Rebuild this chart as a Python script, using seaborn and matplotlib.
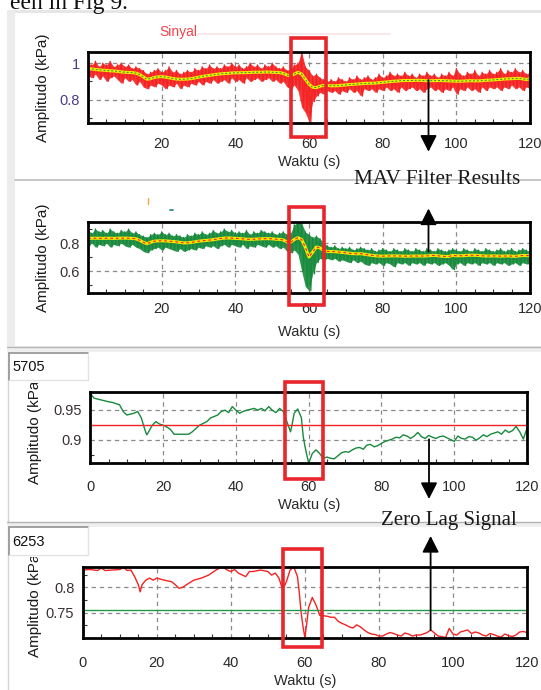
import numpy as np
import pandas as pd
import seaborn as sns
import matplotlib.pyplot as plt
from matplotlib import patches, lines
from matplotlib.transforms import Bbox

W, H = 541, 690

# ---- data ----

t_sec = list(range(121))

# panel 1: raw pressure (red band) and MAV filtered (yellow)
p1_hi = [1.00, 0.99, 1.01, 0.98, 1.00, 0.99, 1.01, 0.98, 0.99, 1.00, 0.98, 0.99, 0.97, 0.98, 0.97, 0.96, 0.94, 0.95, 0.96, 0.97,
         0.95, 0.96, 0.98, 0.95, 0.96, 0.94, 0.95, 0.96, 0.95, 0.97, 0.96, 0.98, 0.97, 0.99, 0.97, 0.98, 0.97, 0.99, 0.98, 1.00,
         0.98, 0.99, 0.97, 0.98, 1.00, 0.98, 0.99, 0.97, 0.99, 0.98, 1.00, 0.98, 0.97, 0.98, 0.96, 0.97, 0.99, 1.00, 1.06, 0.98,
         0.96, 0.93, 0.94, 0.92, 0.91, 0.90, 0.91, 0.90, 0.92, 0.91, 0.90, 0.92, 0.91, 0.93, 0.91, 0.92, 0.93, 0.91, 0.92, 0.94,
         0.92, 0.93, 0.95, 0.93, 0.94, 0.93, 0.95, 0.93, 0.94, 0.92, 0.94, 0.93, 0.95, 0.93, 0.94, 0.92, 0.94, 0.93, 0.95, 0.93,
         0.97, 0.94, 0.93, 0.95, 0.94, 0.96, 0.93, 0.95, 0.94, 0.96, 0.94, 0.95, 0.97, 0.94, 0.96, 0.95, 0.97, 0.95, 0.96, 0.94,
         0.95]
p1_lo = [0.93, 0.92, 0.94, 0.91, 0.93, 0.90, 0.92, 0.93, 0.91, 0.89, 0.92, 0.90, 0.91, 0.88, 0.90, 0.87, 0.86, 0.88, 0.87, 0.89,
         0.88, 0.86, 0.88, 0.87, 0.89, 0.86, 0.88, 0.87, 0.89, 0.88, 0.90, 0.88, 0.90, 0.89, 0.91, 0.89, 0.90, 0.91, 0.89, 0.92,
         0.90, 0.91, 0.89, 0.92, 0.90, 0.91, 0.92, 0.90, 0.91, 0.92, 0.90, 0.91, 0.89, 0.90, 0.87, 0.86, 0.88, 0.85, 0.76, 0.73,
         0.68, 0.79, 0.82, 0.84, 0.83, 0.85, 0.84, 0.85, 0.83, 0.85, 0.84, 0.86, 0.84, 0.85, 0.82, 0.86, 0.85, 0.86, 0.84, 0.86,
         0.85, 0.87, 0.85, 0.86, 0.84, 0.87, 0.85, 0.86, 0.87, 0.85, 0.86, 0.84, 0.86, 0.87, 0.85, 0.86, 0.84, 0.86, 0.85, 0.87,
         0.83, 0.86, 0.85, 0.87, 0.85, 0.86, 0.84, 0.87, 0.85, 0.87, 0.86, 0.87, 0.85, 0.87, 0.86, 0.88, 0.86, 0.87, 0.85, 0.87,
         0.86]
p1_mav = [0.970, 0.968, 0.965, 0.963, 0.961, 0.960, 0.958, 0.957, 0.955, 0.952, 0.950, 0.949, 0.948, 0.945, 0.938, 0.925,
          0.912, 0.915, 0.922, 0.925, 0.926, 0.924, 0.920, 0.916, 0.913, 0.912, 0.912, 0.913, 0.915, 0.919, 0.923, 0.927,
          0.930, 0.933, 0.936, 0.939, 0.941, 0.943, 0.944, 0.946, 0.947, 0.947, 0.948, 0.948, 0.949, 0.950, 0.950, 0.950,
          0.951, 0.951, 0.950, 0.949, 0.948, 0.944, 0.935, 0.930, 0.940, 0.950, 0.940, 0.912, 0.885, 0.868, 0.866, 0.874,
          0.878, 0.878, 0.876, 0.876, 0.877, 0.879, 0.881, 0.883, 0.884, 0.886, 0.887, 0.889, 0.890, 0.890, 0.891, 0.893,
          0.895, 0.897, 0.899, 0.901, 0.902, 0.904, 0.905, 0.905, 0.905, 0.906, 0.906, 0.905, 0.904, 0.904, 0.904, 0.905,
          0.905, 0.904, 0.903, 0.902, 0.901, 0.901, 0.902, 0.903, 0.904, 0.903, 0.903, 0.904, 0.906, 0.907, 0.908, 0.910,
          0.911, 0.913, 0.914, 0.915, 0.916, 0.917, 0.914, 0.910, 0.915]

# panel 2: raw pressure (green band) and MAV filtered (yellow)
p2_hi = [0.89, 0.87, 0.90, 0.88, 0.89, 0.87, 0.90, 0.88, 0.87, 0.89, 0.88, 0.90, 0.87, 0.88, 0.86, 0.85, 0.84, 0.86, 0.87, 0.86,
         0.88, 0.86, 0.87, 0.85, 0.86, 0.85, 0.84, 0.86, 0.85, 0.87, 0.86, 0.88, 0.86, 0.87, 0.89, 0.87, 0.88, 0.90, 0.88, 0.89,
         0.87, 0.88, 0.87, 0.89, 0.86, 0.88, 0.87, 0.89, 0.88, 0.87, 0.88, 0.86, 0.87, 0.88, 0.86, 0.87, 0.93, 0.95, 0.94, 0.88,
         0.86, 0.84, 0.85, 0.83, 0.80, 0.78, 0.77, 0.78, 0.76, 0.77, 0.76, 0.77, 0.75, 0.76, 0.77, 0.76, 0.75, 0.76, 0.74, 0.75,
         0.76, 0.75, 0.74, 0.76, 0.75, 0.74, 0.76, 0.75, 0.74, 0.76, 0.75, 0.74, 0.76, 0.75, 0.74, 0.76, 0.75, 0.74, 0.75, 0.76,
         0.75, 0.74, 0.76, 0.75, 0.74, 0.76, 0.75, 0.74, 0.76, 0.75, 0.74, 0.75, 0.76, 0.74, 0.75, 0.76, 0.74, 0.75, 0.76, 0.75,
         0.74]
p2_lo = [0.78, 0.80, 0.77, 0.79, 0.78, 0.80, 0.77, 0.79, 0.78, 0.80, 0.78, 0.77, 0.79, 0.77, 0.76, 0.74, 0.73, 0.75, 0.76, 0.77,
         0.75, 0.77, 0.76, 0.75, 0.74, 0.76, 0.74, 0.75, 0.76, 0.75, 0.77, 0.76, 0.78, 0.77, 0.78, 0.76, 0.78, 0.79, 0.77, 0.79,
         0.78, 0.77, 0.79, 0.76, 0.78, 0.77, 0.79, 0.78, 0.77, 0.79, 0.77, 0.78, 0.76, 0.77, 0.74, 0.73, 0.75, 0.72, 0.60, 0.49,
         0.46, 0.58, 0.66, 0.69, 0.68, 0.69, 0.68, 0.69, 0.67, 0.68, 0.67, 0.66, 0.68, 0.66, 0.67, 0.65, 0.64, 0.66, 0.65, 0.66,
         0.64, 0.66, 0.65, 0.63, 0.66, 0.65, 0.66, 0.64, 0.66, 0.65, 0.66, 0.64, 0.66, 0.65, 0.66, 0.64, 0.65, 0.66, 0.64, 0.61,
         0.65, 0.66, 0.64, 0.66, 0.65, 0.66, 0.64, 0.66, 0.65, 0.66, 0.64, 0.66, 0.65, 0.66, 0.64, 0.65, 0.66, 0.64, 0.66, 0.65,
         0.66]
p2_mav = [0.833, 0.834, 0.834, 0.834, 0.833, 0.834, 0.834, 0.833, 0.834, 0.835, 0.835, 0.834, 0.833, 0.830, 0.820, 0.805,
          0.795, 0.805, 0.813, 0.815, 0.816, 0.815, 0.813, 0.811, 0.808, 0.804, 0.801, 0.801, 0.804, 0.808, 0.813, 0.816,
          0.818, 0.821, 0.824, 0.828, 0.832, 0.835, 0.836, 0.835, 0.833, 0.832, 0.830, 0.827, 0.826, 0.827, 0.829, 0.830,
          0.831, 0.831, 0.830, 0.827, 0.826, 0.822, 0.808, 0.805, 0.825, 0.838, 0.825, 0.770, 0.700, 0.735, 0.772, 0.765,
          0.745, 0.740, 0.739, 0.738, 0.736, 0.733, 0.730, 0.727, 0.724, 0.723, 0.724, 0.720, 0.716, 0.712, 0.709, 0.707,
          0.706, 0.707, 0.708, 0.708, 0.708, 0.707, 0.706, 0.706, 0.707, 0.707, 0.707, 0.707, 0.708, 0.710, 0.712, 0.709,
          0.706, 0.704, 0.704, 0.712, 0.709, 0.709, 0.710, 0.712, 0.713, 0.712, 0.711, 0.709, 0.707, 0.707, 0.708, 0.707,
          0.706, 0.707, 0.708, 0.706, 0.705, 0.708, 0.711, 0.710, 0.710]

# panel 3: zero lag result of panel 1
p3_t = [0, 1, 3, 5, 6, 8, 9, 10, 12, 13, 14, 15, 15.5, 16, 17, 18, 19, 20, 21, 22, 23, 25, 27, 28, 30, 32, 33, 35, 36, 37,
        38, 39, 40, 41, 42, 43, 45, 46, 47, 48, 49, 50, 51, 52, 53, 54, 55, 55.5, 56, 57, 58, 58.5, 59, 59.5, 60, 61, 62, 63,
        64, 65, 66, 67, 68, 69, 70, 71, 72, 73, 74, 75, 76, 77, 78, 79, 80, 81, 82, 83, 84, 85, 86, 87, 88, 89, 90, 91, 92,
        93, 94, 95, 96, 97, 98, 99, 100, 101, 102, 103, 104, 105, 106, 107, 108, 109, 110, 111, 112, 113, 114, 115, 116,
        117, 118, 119, 120]
p3_v = [0.977, 0.969, 0.966, 0.963, 0.962, 0.958, 0.947, 0.941, 0.944, 0.947, 0.936, 0.916, 0.908, 0.913, 0.924, 0.930,
        0.926, 0.924, 0.921, 0.917, 0.909, 0.909, 0.909, 0.913, 0.924, 0.930, 0.936, 0.941, 0.947, 0.949, 0.945, 0.955,
        0.949, 0.944, 0.947, 0.949, 0.952, 0.949, 0.952, 0.948, 0.955, 0.949, 0.945, 0.952, 0.947, 0.930, 0.913, 0.927,
        0.944, 0.951, 0.936, 0.905, 0.888, 0.874, 0.861, 0.877, 0.883, 0.877, 0.869,
        0.871, 0.869, 0.868, 0.873, 0.878, 0.880, 0.879, 0.883, 0.886, 0.887, 0.884, 0.891, 0.892, 0.888, 0.890, 0.894,
        0.897, 0.899, 0.901, 0.904, 0.903, 0.908, 0.906, 0.902, 0.906, 0.912, 0.905, 0.902, 0.907, 0.904, 0.902, 0.905,
        0.906, 0.903, 0.900, 0.897, 0.906, 0.902, 0.901, 0.905, 0.904, 0.899, 0.903, 0.908, 0.905, 0.909, 0.911, 0.913,
        0.909, 0.916, 0.912, 0.915, 0.922, 0.913, 0.901, 0.919]
p3_ref = 0.924

# panel 4: zero lag result of panel 2
p4_t = [0, 2, 4, 5, 6, 8, 10, 11, 12, 13, 14, 15, 15.5, 16, 17, 18, 19, 20, 22, 24, 25, 26, 27, 28, 30, 32, 34, 36, 37, 38,
        39, 40, 41, 42, 44, 45, 46, 48, 50, 51, 52, 53, 54, 55, 56, 57, 58, 58.5, 59, 59.5, 60, 60.5, 61, 62, 63, 64, 65, 66,
        67, 68, 69, 70, 71, 72, 73, 74, 75, 76, 77, 78, 79, 80, 81, 82, 83, 84, 85, 86, 87, 88, 89, 90, 91, 92, 93, 94, 95,
        96, 97, 98, 99, 100, 101, 102, 103, 104, 105, 106, 107, 108, 109, 110, 111, 112, 113, 114, 115, 116, 117, 118, 119,
        120]
p4_v = [0.834, 0.835, 0.833, 0.838, 0.833, 0.834, 0.835, 0.839, 0.833, 0.834, 0.821, 0.805, 0.791, 0.805, 0.814, 0.818,
        0.814, 0.818, 0.814, 0.811, 0.805, 0.798, 0.800, 0.805, 0.814, 0.818, 0.824, 0.834, 0.838, 0.839, 0.834, 0.831,
        0.835, 0.828, 0.821, 0.831, 0.831, 0.834, 0.831, 0.824, 0.828, 0.818, 0.795, 0.811, 0.834, 0.840, 0.821, 0.788,
        0.749, 0.722, 0.701, 0.729, 0.760, 0.780, 0.765, 0.745, 0.744, 0.743,
        0.741, 0.741, 0.733, 0.729, 0.726, 0.722, 0.720, 0.726, 0.722, 0.716, 0.711, 0.708, 0.707, 0.704, 0.704, 0.708,
        0.711, 0.709, 0.706, 0.704, 0.710, 0.708, 0.704, 0.706, 0.706, 0.708, 0.711, 0.716, 0.710, 0.704, 0.703, 0.701,
        0.719, 0.708, 0.706, 0.712, 0.714, 0.716, 0.709, 0.712, 0.710, 0.706, 0.704, 0.709, 0.707, 0.704, 0.702, 0.708,
        0.705, 0.703, 0.706, 0.712, 0.713, 0.711]
p4_ref = 0.7546

box_codes = ['5705', '6253']

# ---- figure ----

sns.set_theme(style='white')
plt.rcParams['font.family'] = ['Liberation Sans', 'DejaVu Sans']

fig = plt.figure(figsize=(W / 100, H / 100), dpi=100)
fig.patch.set_facecolor('white')


def fx(x):
    return x / W


def fy(y):
    return 1 - y / H


def rect_px(x0, y0, x1, y1, **kw):
    r = patches.Rectangle((fx(x0), fy(y1)), fx(x1) - fx(x0), fy(y0) - fy(y1),
                          transform=fig.transFigure, **kw)
    fig.add_artist(r)


def line_px(xs, ys, **kw):
    fig.add_artist(lines.Line2D([fx(v) for v in xs], [fy(v) for v in ys],
                                transform=fig.transFigure, **kw))


def arrow_px(x, y0, y1):
    fig.add_artist(patches.FancyArrowPatch((fx(x), fy(y0)), (fx(x), fy(y1)),
                                           transform=fig.transFigure,
                                           arrowstyle='-|>,head_length=0.55,head_width=0.28',
                                           mutation_scale=18, lw=1.3, color='black',
                                           shrinkA=0, shrinkB=0, zorder=6))


# window chrome
rect_px(7, 10, 541, 13, fc='#e6e6e6', ec='none', zorder=-5)
rect_px(7, 10, 15, 347, fc='#ececec', ec='none', zorder=-5)
line_px([15, 541], [180, 180], color='#bdbdbd', lw=1.2, zorder=-4)
rect_px(7, 346, 541, 352, fc='#efefef', ec='none', zorder=-5)
line_px([7, 541], [346.5, 346.5], color='#b4b4b4', lw=1.0, zorder=-4)
line_px([7.5, 7.5], [352, 522], color='#d4d4d4', lw=1.0, zorder=-4)
rect_px(7, 522, 541, 527, fc='#efefef', ec='none', zorder=-5)
line_px([7, 541], [521.8, 521.8], color='#b4b4b4', lw=1.0, zorder=-4)
line_px([7.5, 7.5], [527, 690], color='#d4d4d4', lw=1.0, zorder=-4)

# numeric boxes
for code, (y0, y1) in zip(box_codes, [(352.5, 380), (526.7, 555)]):
    rect_px(8.6, y0, 88, y1, fc='white', ec='none', zorder=2)
    line_px([8.6, 88], [y0 + 0.7, y0 + 0.7], color='#9a9a9a', lw=1.3, zorder=3)
    line_px([9.3, 9.3], [y0, y1], color='#9a9a9a', lw=1.3, zorder=3)
    line_px([8.6, 88], [y1, y1], color='#e2e2e2', lw=1.0, zorder=3)
    line_px([88, 88], [y0, y1], color='#e2e2e2', lw=1.0, zorder=3)
    fig.text(fx(12), fy((y0 + y1) / 2 + 1), code, fontsize=10.5, color='#111111',
             ha='left', va='center', zorder=4)

axes_px = [(88, 51.7, 530, 122.7), (88, 221.7, 530, 292.7), (90.4, 392.3, 527, 463.3), (82.8, 566.7, 527, 637.7)]
axs = [fig.add_axes([fx(a), fy(d), fx(c) - fx(a), fy(b) - fy(d)]) for a, b, c, d in axes_px]
ax1, ax2, ax3, ax4 = axs

grid_kw = dict(color='#8a8a8a', lw=0.9, ls=(0, (3.5, 3)))

# raw signals as a zig-zag between the high and low readings
raw_t = []
for s in t_sec:
    raw_t += [s, s + 0.5]
raw_t = raw_t[:-1]

raw1 = []
for a, b in zip(p1_hi, p1_lo):
    raw1 += [a, b]
raw1 = raw1[:-1]
raw2 = []
for a, b in zip(p2_hi, p2_lo):
    raw2 += [a, b]
raw2 = raw2[:-1]

red, green, yellow = '#f42222', '#178a3c', '#f4ea00'

ax1.fill_between(t_sec, p1_lo, p1_hi, color=red, lw=0, alpha=0.9)
sns.lineplot(x=raw_t, y=raw1, ax=ax1, color=red, lw=0.9, sort=False)
sns.lineplot(x=t_sec, y=p1_mav, ax=ax1, color=yellow, lw=2.2, sort=False)
sns.lineplot(x=t_sec, y=p1_mav, ax=ax1, color='#2e8b3a', lw=0.7, ls=(0, (2, 2)), sort=False)

ax2.fill_between(t_sec, p2_lo, p2_hi, color=green, lw=0, alpha=0.9)
sns.lineplot(x=raw_t, y=raw2, ax=ax2, color=green, lw=0.9, sort=False)
sns.lineplot(x=t_sec, y=p2_mav, ax=ax2, color=yellow, lw=2.2, sort=False)
sns.lineplot(x=t_sec, y=p2_mav, ax=ax2, color=red, lw=0.8, ls=(0, (2.5, 2.5)), sort=False)

sns.lineplot(x=p3_t, y=p3_v, ax=ax3, color=green, lw=1.0, sort=False)
ax3.axhline(p3_ref, color=red, lw=1.0)

sns.lineplot(x=p4_t, y=p4_v, ax=ax4, color=red, lw=1.0, sort=False)
ax4.axhline(p4_ref, color='#1f9a48', lw=1.0)

specs = [
    (ax1, (0, 120), (0.675, 1.062), [20, 40, 60, 80, 100, 120], [0.8, 1.0], ['0.8', '1'], np.arange(0.7, 1.06, 0.1), 10.0, '#4b3b8b'),
    (ax2, (0, 120), (0.4455, 0.952), [20, 40, 60, 80, 100, 120], [0.6, 0.8], ['0.6', '0.8'], np.arange(0.5, 0.95, 0.1), 6.5, '#3a3232'),
    (ax3, (0, 120), (0.8606, 0.9788), [0, 20, 40, 60, 80, 100, 120], [0.9, 0.95], ['0.9', '0.95'], np.arange(0.875, 0.975, 0.025), 12.0, '#3a3232'),
    (ax4, (0, 120), (0.7008, 0.8405), [0, 20, 40, 60, 80, 100, 120], [0.75, 0.8], ['0.75', '0.8'], np.arange(0.725, 0.84, 0.025), 13.0, '#3a3232'),
]
for ax, xl, yl, xt, yt, ytl, ymin, xpad, ycol in specs:
    ax.set_facecolor('white')
    ax.set_xlim(xl)
    ax.set_ylim(yl)
    ax.set_xticks(xt)
    ax.set_xticklabels([str(v) for v in xt])
    ax.set_yticks(yt)
    ax.set_yticklabels(ytl)
    ax.set_xticks(np.arange(5, 120, 5), minor=True)
    ax.set_yticks(ymin, minor=True)
    ax.grid(True, which='major', **grid_kw)
    ax.set_axisbelow(True)
    for sp in ax.spines.values():
        sp.set_visible(True)
        sp.set_color('black')
        sp.set_linewidth(2.0)
    ax.tick_params(axis='x', which='major', direction='in', length=0, pad=xpad,
                   labelsize=10.5, labelcolor='#2a2a2a')
    ax.tick_params(axis='y', which='major', direction='out', length=3.6, width=1.0,
                   pad=2.5, labelsize=10.5, labelcolor=ycol, color='#333333')
    ax.tick_params(which='minor', direction='in', length=3, width=0.8, color='#333333',
                   bottom=True, left=True)
    ax.set_xlabel('')
    ax.set_ylabel('')

# axis titles
for (a, b, c, d), xly in zip(axes_px, [162.3, 332.3, 505, 681.5]):
    fig.text(fx((a + c) / 2), fy(xly), 'Waktu (s)', fontsize=10.5, color='#2a2a2a', ha='center', va='center')

fig.text(fx(43), fy(87.5), 'Amplitudo (kPa)', fontsize=11, rotation=90, ha='center', va='center', color='#1a1a1a')
fig.text(fx(43), fy(257.5), 'Amplitudo (kPa)', fontsize=11, rotation=90, ha='center', va='center', color='#1a1a1a')
for yb, ytop in [(484, 383.3), (656.7, 556.7)]:
    t = fig.text(fx(35), fy(yb), 'Amplitudo (kPa)', fontsize=11, rotation=90, ha='center', va='bottom',
                 color='#1a1a1a')
    t.set_clip_on(True)
    t.set_clip_box(Bbox([[0, H - yb - 10], [80, H - ytop]]))

# legend remnants
fig.text(fx(159), fy(32), 'Sinyal', fontsize=10, color='#f2424a', ha='left', va='center')
line_px([198, 390], [34, 34], color='#f8e2e2', lw=1.2, zorder=1)
line_px([147.7, 147.7], [198, 204], color='#f2a640', lw=1.0, zorder=1)
line_px([169.5, 172.5], [209.5, 209.5], color='#1f7f7f', lw=1.2, zorder=1)

# caption fragments from the paper
fig.text(fx(128), fy(9), 'een in Fig 9.', fontsize=17, family='Liberation Serif', ha='right',
         va='baseline', color='#111111')
fig.text(fx(353.7), fy(184.3), 'MAV Filter Results', fontsize=15.3, family='Liberation Serif',
         ha='left', va='baseline', color='#1a1a1a', zorder=5)
fig.text(fx(381), fy(525), 'Zero Lag Signal', fontsize=15, family='Liberation Serif',
         ha='left', va='baseline', color='#1a1a1a', zorder=5)

# highlight boxes around the disturbance
for x0, y0, x1, y1 in [(291, 38.3, 326, 136.7), (289.2, 207.3, 324.4, 305),
                       (285.4, 381.7, 323.3, 479.3), (283, 549, 321.6, 647.3)]:
    rect_px(x0, y0, x1, y1, fill=False, ec='#e8262b', lw=2.6, zorder=5)

arrow_px(428.5, 80, 151.7)
arrow_px(428.5, 251.7, 208.5)
arrow_px(429, 439.3, 499)
arrow_px(430.6, 630, 536)

fig.savefig('out.png', dpi=100)
